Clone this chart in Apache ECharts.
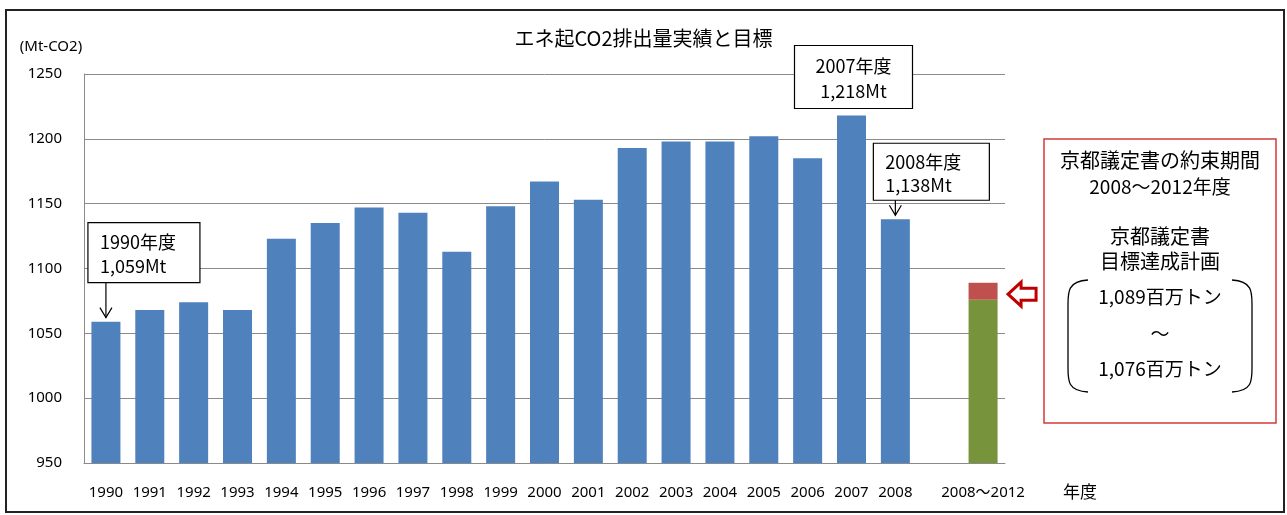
<!DOCTYPE html>
<html>
<head>
<meta charset="utf-8">
<title>エネ起CO2排出量実績と目標</title>
<script src="https://cdn.jsdelivr.net/npm/echarts@6/dist/echarts.min.js"></script>
<style>
  html, body { margin: 0; padding: 0; background: #fff; }
  #main { width: 1287px; height: 515px; }
</style>
</head>
<body>
<div id="main"></div>
<script>
// 年度（実績）
var years = ['1990','1991','1992','1993','1994','1995','1996','1997','1998','1999',
             '2000','2001','2002','2003','2004','2005','2006','2007','2008'];
// エネ起CO2排出量 (Mt-CO2)
var emissions = [1059, 1068, 1074, 1068, 1123, 1135, 1147, 1143, 1113, 1148,
                 1167, 1153, 1193, 1198, 1198, 1202, 1185, 1218, 1138];
// 約束期間の目標 (百万トン)
var periodLabel = '2008〜2012';
var targetLow = 1076;
var targetHigh = 1089;
// y軸目盛
var yMin = 950, yMax = 1250, yStep = 50;

var categories = years.concat(['', periodLabel]);
var lastIdx = categories.length - 1;

var font = "'Noto Sans', 'Noto Sans CJK JP', sans-serif";
var cjk = "'Noto Sans CJK JP', 'Noto Sans', sans-serif";

var blueData = categories.map(function (c, i) { return i < years.length ? emissions[i] : '-'; });
var greenData = categories.map(function (c, i) { return i === lastIdx ? targetLow : '-'; });
var redData = categories.map(function (c, i) { return i === lastIdx ? targetHigh - targetLow : '-'; });

var myChart = echarts.init(document.getElementById('main'));

var option = {
  animation: false,
  backgroundColor: '#fff',
  title: {
    text: 'エネ起CO2排出量実績と目標',
    left: 'center',
    top: 23,
    textStyle: { fontFamily: cjk, fontSize: 20, fontWeight: 'normal', color: '#000' }
  },
  grid: { left: 84, right: 282, top: 74, bottom: 52 },
  xAxis: {
    type: 'category',
    data: categories,
    axisTick: { show: false },
    axisLine: { lineStyle: { color: '#8a8a8a', width: 1 } },
    axisLabel: { interval: 0, margin: 22, fontFamily: font, fontSize: 15, color: '#000' }
  },
  yAxis: {
    type: 'value',
    min: yMin,
    max: yMax,
    interval: yStep,
    axisLine: { show: true, lineStyle: { color: '#8a8a8a', width: 1 } },
    axisTick: { show: false },
    axisLabel: { margin: 22, fontFamily: font, fontSize: 15, color: '#000',
                 formatter: function (v) { return String(v); } },
    splitLine: { lineStyle: { color: '#8a8a8a', width: 1 } }
  },
  series: [
    { name: '実績', type: 'bar', stack: 'co2', barWidth: 29, data: blueData,
      itemStyle: { color: '#4f81bd' } },
    { name: '目標下限', type: 'bar', stack: 'co2', barWidth: 29, data: greenData,
      itemStyle: { color: '#77933c' } },
    { name: '目標幅', type: 'bar', stack: 'co2', barWidth: 29, data: redData,
      itemStyle: { color: '#c0504d' } }
  ]
};

myChart.setOption(option);

// 注記（吹き出し）をデータ位置から配置
function px(idx, val) {
  return myChart.convertToPixel({ gridIndex: 0 }, [idx, val]);
}

function callout(idx, lines, dx, dy, w, h, arrow, align) {
  var p = px(idx, emissions[idx]);
  var x = p[0] + dx, y = p[1] + dy;
  var els = [{
    type: 'rect',
    shape: { x: x, y: y, width: w, height: h },
    style: { fill: '#fff', stroke: '#000', lineWidth: 1.2 },
    z: 10
  }];
  lines.forEach(function (t, k) {
    els.push({
      type: 'text',
      x: align === 'center' ? x + w / 2 : x + 12,
      y: y + h * (k === 0 ? 0.33 : 0.73),
      style: { text: t, font: '18px ' + cjk, fill: '#000',
               align: align === 'center' ? 'center' : 'left', verticalAlign: 'middle' },
      z: 11
    });
  });
  if (arrow) {
    var tipY = p[1] - 4;
    els.push({
      type: 'line',
      shape: { x1: p[0], y1: y + h, x2: p[0], y2: tipY },
      style: { stroke: '#000', lineWidth: 1.2 }, z: 11
    });
    els.push({
      type: 'polyline',
      shape: { points: [[p[0] - 6, tipY - 10], [p[0], tipY], [p[0] + 6, tipY - 10]] },
      style: { stroke: '#000', lineWidth: 1.2, fill: null }, z: 11
    });
  }
  return els;
}

var graphics = [];
// 外枠
graphics.push({
  type: 'rect',
  shape: { x: 6, y: 10, width: 1278, height: 502 },
  style: { fill: null, stroke: '#222', lineWidth: 2 },
  z: 1
});
// y軸単位
graphics.push({
  type: 'text', x: 51, y: 47,
  style: { text: '(Mt-CO2)', font: '15px ' + font, fill: '#000', align: 'center', verticalAlign: 'middle' }
});
// x軸単位
graphics.push({
  type: 'text', x: 1080, y: 492,
  style: { text: '年度', font: '17px ' + cjk, fill: '#000', align: 'center', verticalAlign: 'middle' }
});

graphics = graphics
  .concat(callout(0, ['1990年度', '1,059Mt'], -18, -99, 112, 60, true, 'left'))
  .concat(callout(17, ['2007年度', '1,218Mt'], -57, -70, 118, 63, false, 'center'))
  .concat(callout(18, ['2008年度', '1,138Mt'], -22, -76, 116, 57, true, 'left'));

// 目標バーを指す矢印
var mid = px(lastIdx, (targetLow + targetHigh) / 2);
var tx = mid[0] + 25, ty = mid[1] + 3;
graphics.push({
  type: 'polygon',
  shape: { points: [[tx, ty], [tx + 13, ty - 12], [tx + 13, ty - 6], [tx + 28, ty - 6],
                    [tx + 28, ty + 6], [tx + 13, ty + 6], [tx + 13, ty + 12]] },
  style: { fill: '#fff', stroke: '#c00000', lineWidth: 3, lineJoin: 'miter' },
  z: 10
});

// 京都議定書の枠
graphics.push({
  type: 'rect',
  shape: { x: 1044, y: 139, width: 232, height: 284 },
  style: { fill: '#fff', stroke: '#d43a3a', lineWidth: 1.5 },
  z: 10
});
var boxText = [
  ['京都議定書の約束期間', 160, 20],
  ['2008〜2012年度', 187, 19],
  ['京都議定書', 236, 20],
  ['目標達成計画', 261, 20],
  ['1,089百万トン', 297, 19],
  ['〜', 334, 19],
  ['1,076百万トン', 369, 19]
];
boxText.forEach(function (b) {
  graphics.push({
    type: 'text', x: 1160, y: b[1],
    style: { text: b[0], font: b[2] + 'px ' + cjk, fill: '#000', align: 'center', verticalAlign: 'middle' },
    z: 11
  });
});
// 括弧（左右）
function bracket(xEdge, xEnd) {
  return [
    { type: 'bezierCurve', z: 11,
      shape: { x1: xEnd, y1: 280, cpx1: xEdge, cpy1: 281, cpx2: xEdge, cpy2: 292, x2: xEdge, y2: 304 },
      style: { stroke: '#000', lineWidth: 1.3, fill: null } },
    { type: 'line', z: 11,
      shape: { x1: xEdge, y1: 304, x2: xEdge, y2: 368 },
      style: { stroke: '#000', lineWidth: 1.3 } },
    { type: 'bezierCurve', z: 11,
      shape: { x1: xEdge, y1: 368, cpx1: xEdge, cpy1: 381, cpx2: xEdge, cpy2: 391, x2: xEnd, y2: 392 },
      style: { stroke: '#000', lineWidth: 1.3, fill: null } }
  ];
}
graphics = graphics.concat(bracket(1068, 1088)).concat(bracket(1252, 1232));

myChart.setOption({ graphic: graphics });
</script>
</body>
</html>
